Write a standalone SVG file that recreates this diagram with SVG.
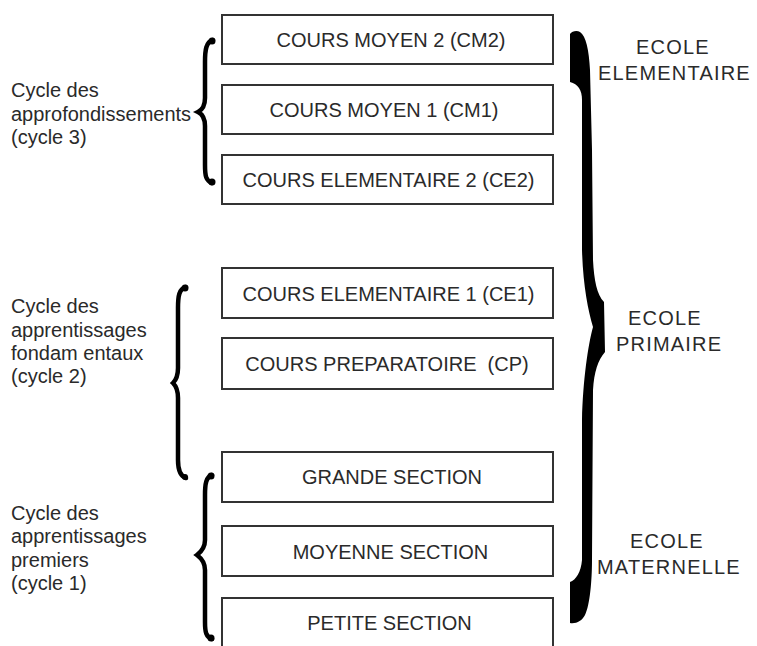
<svg xmlns="http://www.w3.org/2000/svg" width="757" height="646" viewBox="0 0 757 646">
<style>
.box{fill:#fff;stroke:#333;stroke-width:2}
.bt{font-family:"Liberation Sans",Arial,sans-serif;font-size:20px;fill:#2a2a2a;text-anchor:middle}
.lt{font-family:"Liberation Sans",Arial,sans-serif;font-size:20px;fill:#2a2a2a}
.rt{font-family:"Liberation Sans",Arial,sans-serif;font-size:20px;fill:#2a2a2a;letter-spacing:1.2px}
.br{fill:none;stroke:#000;stroke-width:4.5;stroke-linecap:round}
.bend{fill:#000}
</style>
<rect width="757" height="646" fill="#fff"/>
<g id="cm2"><rect class="box" x="222" y="15" width="331" height="49"/><text class="bt" x="391" y="47">COURS MOYEN 2 (CM2)</text></g>
<g id="cm1"><rect class="box" x="222" y="85" width="331" height="49"/><text class="bt" x="384" y="117">COURS MOYEN 1 (CM1)</text></g>
<g id="ce2"><rect class="box" x="222" y="155" width="331" height="49"/><text class="bt" x="388.5" y="187">COURS ELEMENTAIRE 2 (CE2)</text></g>
<g id="ce1"><rect class="box" x="222" y="268" width="331" height="50"/><text class="bt" x="388.5" y="301">COURS ELEMENTAIRE 1 (CE1)</text></g>
<g id="cp"><rect class="box" x="222" y="338" width="331" height="51"/><text class="bt" x="387" y="371">COURS PREPARATOIRE&#160; (CP)</text></g>
<g id="gs"><rect class="box" x="222" y="452" width="331" height="50"/><text class="bt" x="392" y="484">GRANDE SECTION</text></g>
<g id="ms"><rect class="box" x="222" y="526" width="331" height="50"/><text class="bt" x="390.5" y="559">MOYENNE SECTION</text></g>
<g id="ps"><rect class="box" x="222" y="598" width="331" height="60"/><text class="bt" x="389.5" y="630">PETITE SECTION</text></g>

<g id="cycle3">
<path class="br" d="M213,40 C206,42 205,50 205,62 L205,98 C205,106 202,110 198,112 C202,114 205,118 205,126 L205,165 C205,176 206,181 212,183"/>
<circle class="bend" cx="212" cy="41" r="3.5"/><circle class="bend" cx="212" cy="182" r="3.5"/>
<text class="lt" x="11" y="97">Cycle des</text>
<text class="lt" x="11" y="120.5">approfondissements</text>
<text class="lt" x="11" y="144">(cycle 3)</text>
</g>
<g id="cycle2">
<path class="br" d="M186,287 C179,289 178,296 178,308 L178,368 C178,376 176,380 173,383 C176,386 178,390 178,398 L178,460 C178,470 180,476 186,478"/>
<circle class="bend" cx="185" cy="288" r="3.5"/><circle class="bend" cx="185" cy="477" r="3"/>
<text class="lt" x="11" y="313">Cycle des</text>
<text class="lt" x="11" y="337">apprentissages</text>
<text class="lt" x="11" y="360">fondam entaux</text>
<text class="lt" x="11" y="383">(cycle 2)</text>
</g>
<g id="cycle1">
<path class="br" d="M212,475 C206,477 205,484 205,495 L205,540 C205,548 201,552 197,555 C201,558 205,562 205,570 L205,622 C205,632 206,637 212,639"/>
<circle class="bend" cx="211" cy="476" r="3.5"/><circle class="bend" cx="211" cy="638" r="3.5"/>
<text class="lt" x="11" y="520">Cycle des</text>
<text class="lt" x="11" y="543">apprentissages</text>
<text class="lt" x="11" y="567">premiers</text>
<text class="lt" x="11" y="590">(cycle 1)</text>
</g>
<g id="ecole">
<path fill="#000" d="M570,34 C572,31 577,30 580,32 C586,36 589,50 590,70 L592,150 L593,260 C594,280 597,295 604,302 L605,352 C598,360 594,372 593,390 L592,560 C592,580 590,605 585,615 C582,621 576,624 570,623 L570,582 C576,580 581,572 582,560 L582,420 C583,380 588,345 593,327 C588,310 583,285 582,250 L582,100 C582,90 578,84 570,82 Z"/>
<text class="rt" x="636" y="54">ECOLE</text>
<text class="rt" x="598" y="80">ELEMENTAIRE</text>
<text class="rt" x="628" y="325">ECOLE</text>
<text class="rt" x="616" y="351">PRIMAIRE</text>
<text class="rt" x="630" y="548">ECOLE</text>
<text class="rt" x="597" y="574">MATERNELLE</text>
</g>
</svg>
